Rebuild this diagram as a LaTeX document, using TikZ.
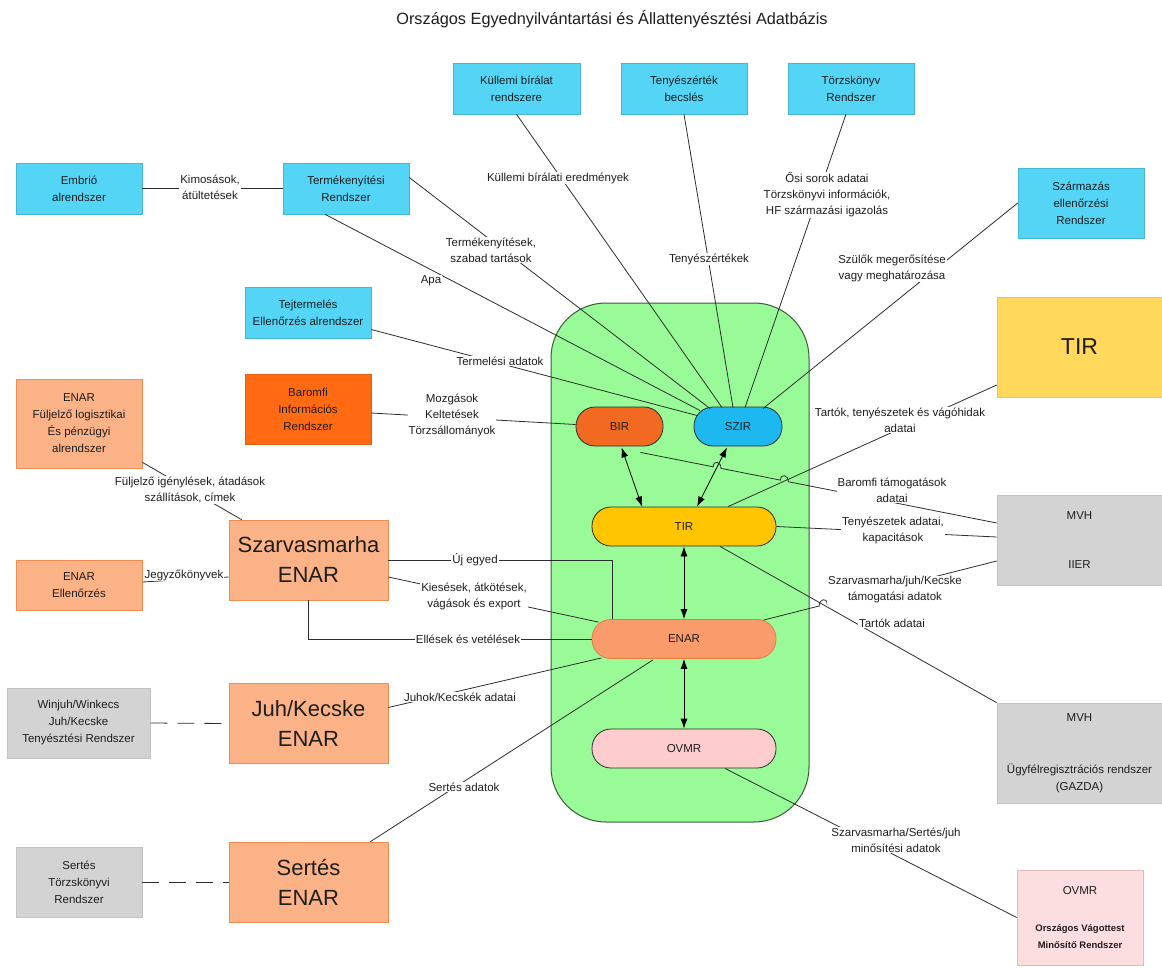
\documentclass[tikz,border=0pt]{standalone}
\usepackage{fontspec}
\setmainfont{Liberation Sans}
\usetikzlibrary{calc,arrows.meta}
\definecolor{skyblue}{RGB}{85,213,245}
\definecolor{szirblue}{RGB}{30,184,240}
\definecolor{baromfiorange}{RGB}{255,106,19}
\definecolor{birorange}{RGB}{242,106,33}
\definecolor{peach}{RGB}{251,178,135}
\definecolor{peachline}{RGB}{240,140,80}
\definecolor{enarcoral}{RGB}{249,155,107}
\definecolor{enarline}{RGB}{226,125,60}
\definecolor{tiryellow}{RGB}{255,198,0}
\definecolor{tirgold}{RGB}{255,216,92}
\definecolor{ovmrpink}{RGB}{253,204,204}
\definecolor{ovmrlight}{RGB}{253,222,222}
\definecolor{lightgrey}{RGB}{211,211,211}
\definecolor{palegreen}{RGB}{152,251,152}
\definecolor{coreline}{RGB}{58,90,58}
\definecolor{linegray}{RGB}{45,45,45}
\definecolor{textgray}{RGB}{30,30,30}
\newcommand{\lblfont}{\fontsize{11.5}{16}\selectfont}
\newcommand{\boxfont}{\fontsize{11.5}{17}\selectfont}
\newcommand{\enarfont}{\fontsize{22}{30}\selectfont}
\newcommand{\ovfont}{\fontsize{9.5}{17}\selectfont\bfseries}
\tikzset{
  sysbox/.style={rectangle, inner sep=0pt, align=center, font=\boxfont, text=textgray, line width=0.6pt},
  bluebox/.style={sysbox, fill=skyblue, draw=skyblue!85!black, minimum width=126pt, minimum height=51pt},
  orangebox/.style={sysbox, fill=peach, draw=peachline, minimum width=126pt},
  enarbox/.style={orangebox, minimum width=159pt, minimum height=80pt, font=\enarfont},
  greybox/.style={sysbox, fill=lightgrey, draw=lightgrey!92!black},
  pill/.style={rectangle, rounded corners=19pt, draw=linegray, line width=0.8pt, minimum height=39pt, font=\lblfont, text=textgray},
  conn/.style={draw=linegray, line width=0.8pt},
  lbl/.style={fill=white, inner sep=1pt, align=center, font=\lblfont, text=textgray},
  link/.style={{Latex[length=10pt,width=7pt]}-{Latex[length=10pt,width=7pt]}, line width=0.8pt, black},
}
\begin{document}
\begin{tikzpicture}[x=1pt,y=-1pt]
\useasboundingbox (0,0) rectangle (1162,967);
\fill[white] (0,0) rectangle (1162,967);
% the title
\node[font=\fontsize{16.3}{20}\selectfont, text=textgray] (title) at (612,19) {Országos Egyednyilvántartási és Állattenyésztési Adatbázis};

% the green core with its systems
\node[draw=coreline, fill=palegreen, line width=1pt, rounded corners=55pt, minimum width=258pt, minimum height=519pt] (core) at (680,562.5) {};
\node[pill, fill=birorange, minimum width=87pt] (bir) at (619.5,426.5) {BIR};
\node[pill, fill=szirblue, minimum width=88pt] (szir) at (738,426.5) {SZIR};
\node[pill, fill=tiryellow, minimum width=184pt] (tirin) at (684,526.5) {TIR};
\node[pill, fill=enarcoral, draw=enarline, minimum width=184pt] (enarin) at (684,639) {ENAR};
\node[pill, fill=ovmrpink, minimum width=184pt] (ovmrin) at (684,748.5) {OVMR};

% the blue boxes
\node[bluebox, minimum width=127pt] (kullemi) at (516.5,88.5) {Küllemi bírálat\\rendszere};
\node[bluebox] (tenyertek) at (684,88.5) {Tenyészérték\\becslés};
\node[bluebox] (torzs) at (851,88.5) {Törzskönyv\\Rendszer};
\node[bluebox] (embrio) at (79,188.5) {Embrió\\alrendszer};
\node[bluebox] (term) at (346,188.5) {Termékenyítési\\Rendszer};
\node[bluebox, minimum height=70pt] (szarm) at (1081,203) {Származás\\ellenőrzési\\Rendszer};
\node[bluebox] (tej) at (308,312.5) {Tejtermelés\\Ellenőrzés alrendszer};

% the orange boxes
\node[orangebox, fill=baromfiorange, draw=baromfiorange!90!black, minimum height=70pt] (baromfi) at (308,409) {Baromfi\\Információs\\Rendszer};
\node[orangebox, minimum height=89pt] (fullj) at (79,423.5) {ENAR\\Füljelző logisztikai\\És pénzügyi\\alrendszer};
\node[orangebox, minimum height=50pt] (ellenor) at (79,585) {ENAR\\Ellenőrzés};
\node[enarbox] (szarvenar) at (308.5,560) {Szarvasmarha\\ENAR};
\node[enarbox] (juhenar) at (308.5,723.5) {Juh/Kecske\\ENAR};
\node[enarbox] (sertenar) at (308.5,882) {Sertés\\ENAR};

% the grey, yellow and pink boxes
\node[greybox, minimum width=143pt, minimum height=70pt] (winjuh) at (78.5,723) {Winjuh/Winkecs\\Juh/Kecske\\Tenyésztési Rendszer};
\node[greybox, minimum width=126pt, minimum height=70pt] (sertorzs) at (79,882) {Sertés\\Törzskönyvi\\Rendszer};
\node[sysbox, fill=tirgold, draw=tirgold!90!black, minimum width=165pt, minimum height=100pt, font=\fontsize{23}{28}\selectfont] (tirbox) at (1079.5,347) {TIR};
\node[greybox, minimum width=165pt, minimum height=90pt] (mvh) at (1079.5,540) {MVH\\[32pt]IIER};
\node[greybox, minimum width=165pt, minimum height=100pt] (mvh2) at (1079.5,753) {MVH\\[35pt]Ügyfélregisztrációs rendszer\\(GAZDA)};
\node[sysbox, fill=ovmrlight, draw=ovmrpink!90!black, minimum width=126pt, minimum height=95pt] (ovmrbox) at (1080,917.5) {OVMR\\[20pt]{\ovfont Országos Vágottest}\\{\ovfont Minősítő Rendszer}};

% the arrows inside the core
\draw[link] ($(bir.south)+(2,1)$) -- ($(tirin.north)+(-42,0)$);
\draw[link] ($(szir.south)+(-11,1)$) -- ($(tirin.north)+(13,0)$);
\draw[link] (tirin.south) -- (enarin.north);
\draw[link] (enarin.south) -- (ovmrin.north);

% the lines into SZIR
\coordinate (apa) at ($(term.south)+(-21,0)$);
\coordinate (szab) at ($(term.east)+(0,-11)$);
\coordinate (kul) at (kullemi.south);
\coordinate (tny) at (tenyertek.south);
\coordinate (osi) at ($(torzs.south)+(-5,0)$);
\coordinate (szul) at (szarm.west);
\coordinate (tejs) at ($(tej.east)+(0,17)$);
\foreach \from/\dx/\dy in {apa/-38/-16,szab/-28/-18,kul/-16/-19,tny/-5/-19,osi/7/-19,szul/25/-18,tejs/-41/-11}
  \draw[conn] (\from) -- ($(szir.center)+(\dx,\dy)$);

% the other lines
\draw[conn] (embrio) -- (term);
\draw[conn] ($(baromfi.east)+(0,4)$) -- ($(bir.west)+(0,-2)$);
\coordinate (bm1) at ($(bir.south)+(21,6)$);
\coordinate (bm2) at ($(mvh.west)+(0,-17)$);
\draw[conn] (bm1) -- ($(bm1)!0.204!(bm2)$) .. controls +(0,-7) and +(0,-7) .. ($(bm1)!0.226!(bm2)$)
  -- ($(bm1)!0.393!(bm2)$) .. controls +(0,-7) and +(0,-7) .. ($(bm1)!0.415!(bm2)$) -- (bm2);
\draw[conn] ($(tirin.north)+(44,0)$) -- ($(tirbox.west)+(0,38)$);
\draw[conn] (tirin.east) -- ($(mvh.west)+(0,-3)$);
\coordinate (em1) at ($(enarin.north east)+(-13,1)$);
\coordinate (em2) at ($(mvh.west)+(0,21)$);
\draw[conn] (em1) -- ($(em1)!0.239!(em2)$) .. controls +(0,-7) and +(0,-7) .. ($(em1)!0.273!(em2)$) -- (em2);
\draw[conn] ($(tirin.south)+(36,0)$) -- (mvh2.north west);
\draw[conn] ($(ovmrin.south)+(41,0)$) -- (ovmrbox.west);
\coordinate (ujc) at ($(enarin.north)+(-72,0)$);
\draw[conn] (szarvenar.east) -- (szarvenar.east -| ujc) -- (ujc);
\draw[conn] ($(szarvenar.east)+(0,17)$) -- ($(enarin.north west)+(7,3)$);
\draw[conn] (szarvenar.south) |- (enarin.west);
\draw[conn] ($(ellenor.east)+(0,-3)$) -- ($(szarvenar.west)+(0,17)$);
\draw[conn] ($(fullj.south east)+(0,-6)$) -- ($(szarvenar.north west)+(13,0)$);
\draw[conn] ($(juhenar.east)+(0,-16)$) -- ($(enarin.south west)+(10,-1)$);
\draw[conn] ($(sertenar.north east)+(-18,0)$) -- ($(enarin.south)+(-31,1)$);
\draw[conn, dash pattern=on 17pt off 10pt] (winjuh.east) -- (juhenar.west);
\draw[conn, dash pattern=on 17pt off 10pt] (sertorzs.east) -- (sertenar.west);

% the labels on the lines
\node[lbl] (lKimos) at (210,187) {Kimosások,\\átültetések};
\node[lbl] (lSzabad) at (491,250) {Termékenyítések,\\szabad tartások};
\node[lbl] (lApa) at (431,281) {Apa};
\node[lbl] (lKull) at (558,178) {Küllemi bírálati eredmények};
\node[lbl] (lTeny) at (709,259) {Tenyészértékek};
\node[lbl] (lOsi) at (827,195) {Ősi sorok adatai\\Törzskönyvi információk,\\HF származási igazolás};
\node[lbl] (lSzul) at (892,268) {Szülők megerősítése\\vagy meghatározása};
\node[lbl] (lTerm) at (500,361) {Termelési adatok};
\node[lbl] (lMozg) at (452,415) {Mozgások\\Keltetések\\Törzsállományok};
\node[lbl] (lTartok) at (900,420) {Tartók, tenyészetek és vágóhidak\\adatai};
\node[lbl] (lBarom) at (892,490) {Baromfi támogatások\\adatai};
\node[lbl] (lTenyAd) at (893,530) {Tenyészetek adatai,\\kapacitások};
\node[lbl] (lTamog) at (895,590) {Szarvasmarha/juh/Kecske\\támogatási adatok};
\node[lbl] (lTartAd) at (892,623) {Tartók adatai};
\node[lbl] (lMinos) at (896,840) {Szarvasmarha/Sertés/juh\\minősítési adatok};
\node[lbl] (lUj) at (475,560) {Új egyed};
\node[lbl] (lKies) at (474,596) {Kiesések, átkötések,\\vágások és export};
\node[lbl] (lElles) at (468,639) {Ellések és vetélések};
\node[lbl] (lJegyz) at (184,575) {Jegyzőkönyvek};
\node[lbl] (lFul) at (190,490) {Füljelző igénylések, átadások\\szállítások, címek};
\node[lbl] (lJuhok) at (460,697) {Juhok/Kecskék adatai};
\node[lbl] (lSertes) at (464,787) {Sertés adatok};
\end{tikzpicture}
\end{document}
